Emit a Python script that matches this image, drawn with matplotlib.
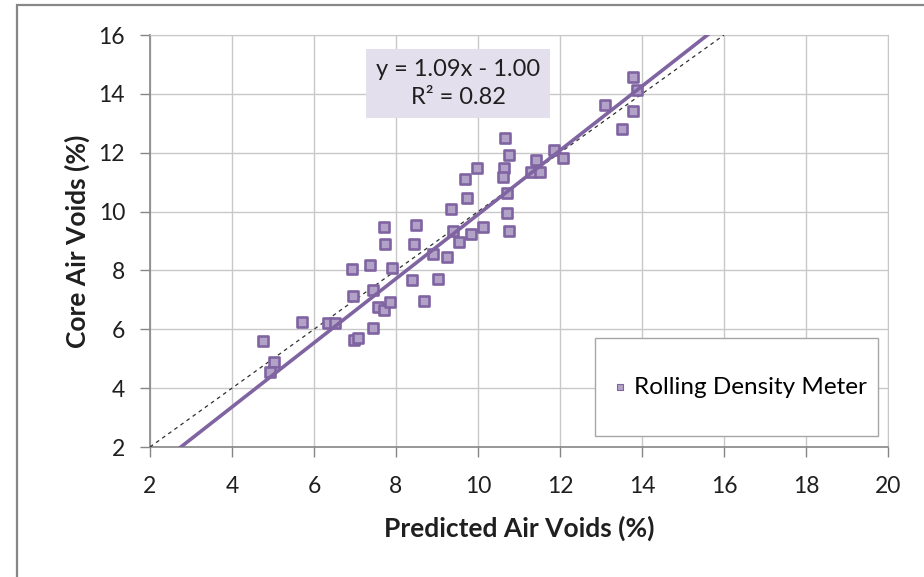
from matplotlib import pyplot as plt
from matplotlib.patches import Rectangle
import numpy as np

##-----------------------------------------------------------------------------

predicted_voids = [4.76, 5.02, 4.93, 5.71, 6.35, 6.50, 6.92, 6.95, 6.98, 7.08,
                   7.36, 7.45, 7.45, 7.55, 7.70, 7.74, 7.70, 7.86, 7.90, 8.49,
                   8.43, 8.40, 8.68, 8.90, 9.02, 9.24, 9.34, 9.38, 9.53, 9.69,
                   9.72, 9.82, 9.97, 10.13, 10.67, 10.63, 10.60, 10.70, 10.76, 10.71,
                   10.76, 11.41, 11.30, 11.50, 11.86, 12.08, 13.10, 13.50, 13.79, 13.89,
                   13.79]

core_voids      = [5.60, 4.90, 4.55, 6.25, 6.20, 6.20, 8.05, 7.13, 5.64, 5.71,
                   8.18, 7.35, 6.03, 6.77, 9.47, 8.90, 6.66, 6.92, 8.08, 9.55,
                   8.90, 7.66, 6.96, 8.55, 7.71, 8.45, 10.08, 9.34, 8.97, 11.12,
                   10.47, 9.25, 11.48, 9.47, 12.49, 11.48, 11.19, 10.64, 11.93, 9.94,
                   9.34, 11.75, 11.33, 11.33, 12.09, 11.83, 13.61, 12.80, 14.56, 14.13,
                   13.42]

slope     = 1.09
intercept = -1.00
r_squared = 0.82

x_ticks = [2, 4, 6, 8, 10, 12, 14, 16, 18, 20]
y_ticks = [2, 4, 6, 8, 10, 12, 14, 16]

##-----------------------------------------------------------------------------

plt.rcParams['font.family'] = ['Lato', 'DejaVu Sans']

purple      = '#8064a2'
purple_fill = '#b3a2c7'
grid_grey   = '#c8c8c8'
axis_grey   = '#868686'
text_col    = '#1f1f1f'

fig = plt.figure(figsize = (9.24, 5.77), dpi = 100)
ax  = fig.add_axes([150/924, 1 - 447/577, 738/924, 412/577])

# outer chart frame (only left and top edges fall inside the image)
fig.patches.append(Rectangle((17/924, -0.2), 1.2, 1.2 - 5/577, transform = fig.transFigure,
                             fill = False, edgecolor = '#878787', linewidth = 1.6))

ax.scatter(predicted_voids, core_voids, marker = 's', s = 58, color = purple_fill,
           edgecolors = purple, linewidths = 1.9, zorder = 4, label = 'Rolling Density Meter')

# line of equality
ax.plot([2, 16], [2, 16], linestyle = (0, (3, 3)), color = '#303030', linewidth = 0.9, zorder = 3)

# linear trend line
x_fit = np.array([0, 22])
ax.plot(x_fit, slope * x_fit + intercept, color = purple, linewidth = 2.6, zorder = 5)

ax.set_xlim(2, 20)
ax.set_ylim(2, 16)
ax.set_xticks(x_ticks)
ax.set_yticks(y_ticks)
ax.grid(color = grid_grey, linewidth = 1.0)
ax.set_axisbelow(True)

for side in ['top', 'right']:
    ax.spines[side].set_color(grid_grey)
for side in ['left', 'bottom']:
    ax.spines[side].set_color(axis_grey)
    ax.spines[side].set_linewidth(1.2)

ax.tick_params(direction = 'out', length = 7, width = 1.0, color = axis_grey,
               labelsize = 16.5, labelcolor = text_col)
ax.tick_params(axis = 'x', pad = 14)
ax.tick_params(axis = 'y', pad = 11)

ax.set_xlabel('Predicted Air Voids (%)', fontsize = 19, fontweight = 'bold', labelpad = 13, color = text_col)
ax.set_ylabel('Core Air Voids (%)', fontsize = 19, fontweight = 'bold', labelpad = 6, color = text_col)

ax.text(0.4175, 0.882, 'y = %.2fx - %.2f\nR² = %.2f' % (slope, -intercept, r_squared),
        transform = ax.transAxes, ha = 'center', va = 'center', fontsize = 17,
        color = text_col, linespacing = 1.45, zorder = 6,
        bbox = dict(boxstyle = 'square,pad=0.42', facecolor = '#e4dfec', edgecolor = 'none'))

# legend frame drawn by hand, entry placed inside it
ax.add_patch(Rectangle((445/738, 11/412), 283/738, 98/412, transform = ax.transAxes,
                       facecolor = 'white', edgecolor = '#a6a6a6', linewidth = 1.0, zorder = 6))
leg = ax.legend(loc = 'center left', bbox_to_anchor = (461/738, 60/412), fontsize = 17.5,
                frameon = False, borderpad = 0, borderaxespad = 0, handletextpad = 0.2,
                markerscale = 0.6, handlelength = 0.75)
leg.set_zorder(7)
leg.legend_handles[0].set_linewidth(0.8)

fig.savefig('out.png', dpi = 100)
